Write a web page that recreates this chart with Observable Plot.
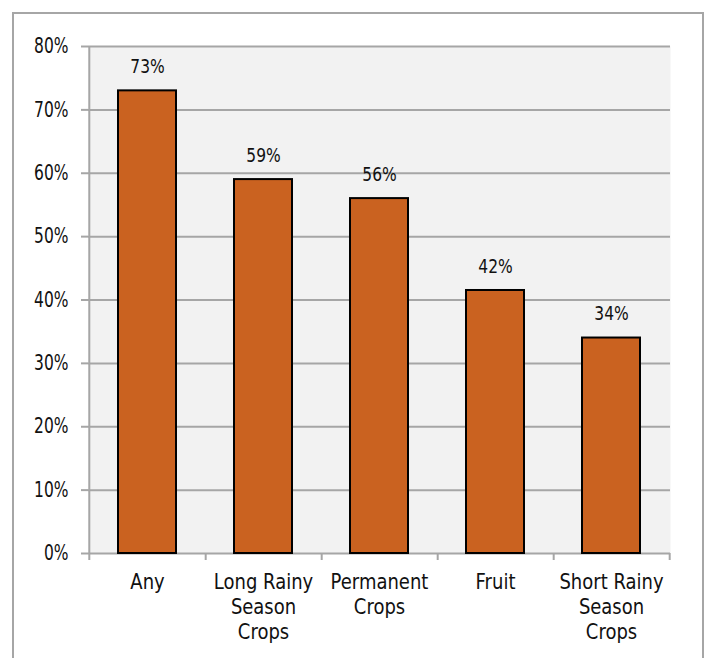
<!DOCTYPE html>
<html><head><meta charset="utf-8">
<script src="https://cdn.jsdelivr.net/npm/d3@7"></script>
<script src="https://cdn.jsdelivr.net/npm/@observablehq/plot@0.6"></script>
<style>
html,body{margin:0;padding:0;background:#fff;}
#wrap{position:relative;width:708px;height:658px;overflow:hidden;}
#border{position:absolute;left:12px;top:12px;width:692px;height:700px;border:2px solid #a6a6a6;box-sizing:border-box;}
#chart{position:absolute;left:0;top:0;}
</style></head><body>
<div id="wrap"><div id="border"></div><div id="chart"></div></div>
<script>
const categories = ["Any", "Long Rainy Season Crops", "Permanent Crops", "Fruit", "Short Rainy Season Crops"];
const tickLabels = ["Any", "Long Rainy\nSeason\nCrops", "Permanent\nCrops", "Fruit", "Short Rainy\nSeason\nCrops"];
const values = [0.73, 0.59, 0.56, 0.415, 0.34];
const valueLabels = ["73%", "59%", "56%", "42%", "34%"];
const yTicks = [0, 0.1, 0.2, 0.3, 0.4, 0.5, 0.6, 0.7, 0.8];

const W = 708, H = 658, mL = 88, mR = 38, mT = 46, mB = 105;
const bw = (W - mL - mR) / categories.length;
const data = categories.map((c, i) => ({category: c, value: values[i], label: valueLabels[i]}));
const grid = "#a6a6a6";

const chart = Plot.plot({
  width: W, height: H,
  marginLeft: mL, marginRight: mR, marginTop: mT, marginBottom: mB,
  style: {fontFamily: "DejaVu Sans", background: "transparent", color: "#111"},
  x: {type: "band", domain: categories, padding: 0, label: null, axis: null},
  y: {domain: [0, 0.8], label: null, axis: null},
  marks: [
    Plot.frame({fill: "#f2f2f2", stroke: null}),
    Plot.ruleY(yTicks, {stroke: grid, strokeWidth: 2}),
    Plot.ruleX([categories[0]], {x: d => d, dx: -bw / 2, y1: 0.8, y2: 0, insetBottom: -7, stroke: grid, strokeWidth: 2}),
    Plot.ruleX(categories, {x: d => d, dx: bw / 2, y1: 0, y2: 0, insetBottom: -7, stroke: grid, strokeWidth: 2}),
    Plot.axisY({ticks: yTicks, tickFormat: d3.format(".0%"), tickSize: 7, tickPadding: 13, fontSize: 15.5, stroke: grid, strokeWidth: 2, fill: "#111", label: null}),
    Plot.axisX({tickSize: 0, tickPadding: 18, fontSize: 18, lineHeight: 1.2, fill: "#111", label: null,
      tickFormat: d => tickLabels[categories.indexOf(d)]}),
    Plot.barY(data, {x: "category", y: "value", fill: "#ca6220", stroke: "#000", strokeWidth: 2, insetLeft: 29, insetRight: 29}),
    Plot.text(data, {x: "category", y: "value", text: "label", dy: -24, fontSize: 15.5, fill: "#111"})
  ]
});
document.getElementById("chart").append(chart);

function stretch(sel, k, mode) {
  chart.querySelectorAll(sel).forEach(t => {
    const b = t.getBBox();
    const cy = mode === "top" ? b.y : b.y + b.height / 2;
    const tr = t.getAttribute("transform") || "";
    t.setAttribute("transform", `${tr} translate(0,${cy}) scale(1,${k}) translate(0,${-cy})`);
  });
}
stretch('g[aria-label="y-axis tick label"] text', 1.35, "center");
stretch('g[aria-label="x-axis tick label"] text', 1.15, "top");
stretch('g[aria-label="text"] text', 1.3, "center");
</script>
</body></html>
